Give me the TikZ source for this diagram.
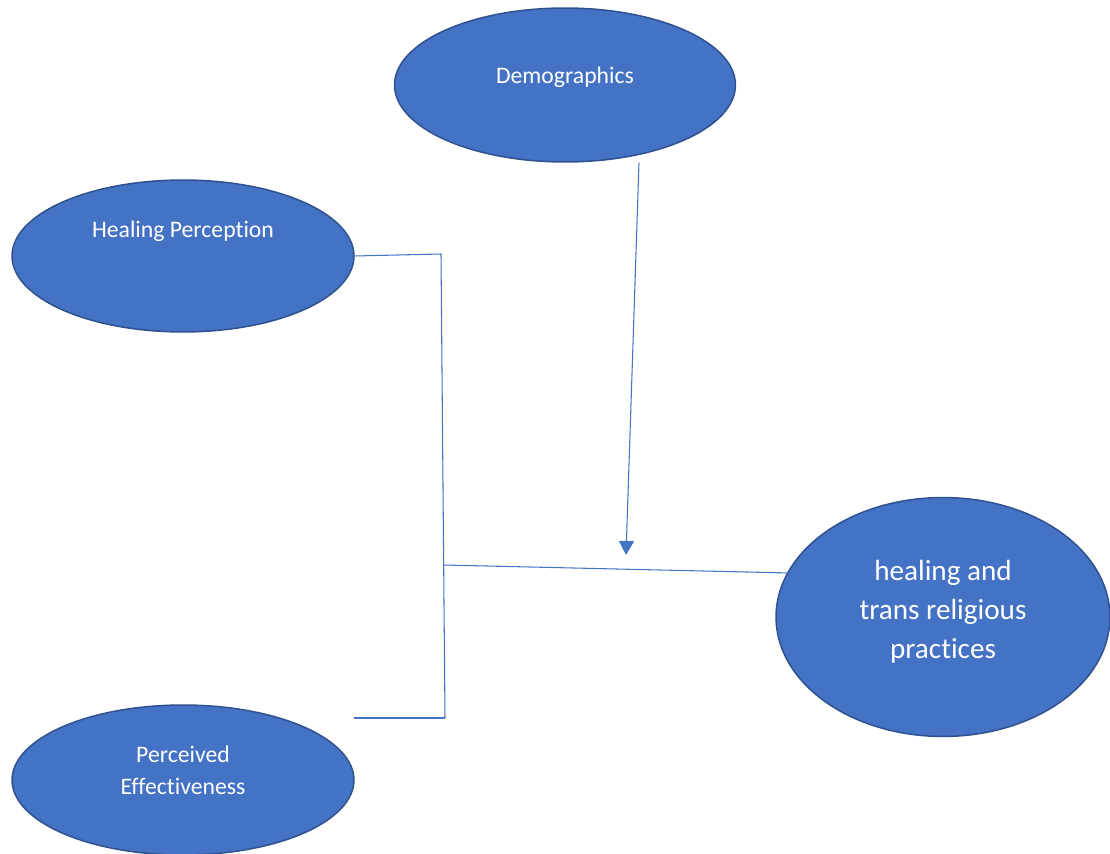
\documentclass[tikz,border=0pt]{standalone}
\usepackage{fontspec}
\setmainfont{Carlito}[Ligatures=NoCommon]
\usetikzlibrary{shapes.geometric,arrows.meta}
\definecolor{ovalfill}{HTML}{4472C4}
\definecolor{ovaledge}{HTML}{2F528F}
\tikzset{
	oval/.style={ellipse, fill=ovalfill, draw=ovaledge, line width=0.85pt, text=white, align=center, inner sep=0pt},
	small/.style={font=\fontsize{13.5}{18.2}\selectfont},
	big/.style={font=\fontsize{16.6}{22.1}\selectfont},
	link/.style={draw=ovalfill, line width=0.6pt}
}
\begin{document}
\begin{tikzpicture}[x=0.02cm, y=-0.02cm]
		\useasboundingbox (0,0) rectangle (1110,854);
		\node(A)[oval, small, minimum width=6.82cm, minimum height=3.08cm, text depth=0.38cm] at (565,85){Demographics};
		\node(B)[oval, small, minimum width=6.84cm, minimum height=3.04cm, text depth=1.06cm] at (183,256){Healing Perception};
		\node(C)[oval, small, minimum width=6.84cm, minimum height=3.0cm, text depth=0.38cm] at (183,780){Perceived\\Effectiveness};
		\node(D)[oval, big, minimum width=6.68cm, minimum height=4.78cm, text depth=0.3cm] at (943,617){healing and\\trans religious\\practices};
		\coordinate(P) at (441,254);
		\coordinate(Q) at (445,718);
		\coordinate(R) at (354,718);
		\coordinate(S) at (443,565);
		\coordinate(U) at (790,573);
		\coordinate(T) at (626,555);
		\draw[link](B.east) -- (P) -- (Q);
		\draw[link](R) -- (Q);
		\draw[link](S) -- (U);
		\draw[link, -{Triangle[width=0.3cm, length=0.28cm]}](A.south -| 639,0) -- (T);
	\end{tikzpicture}
\end{document}
